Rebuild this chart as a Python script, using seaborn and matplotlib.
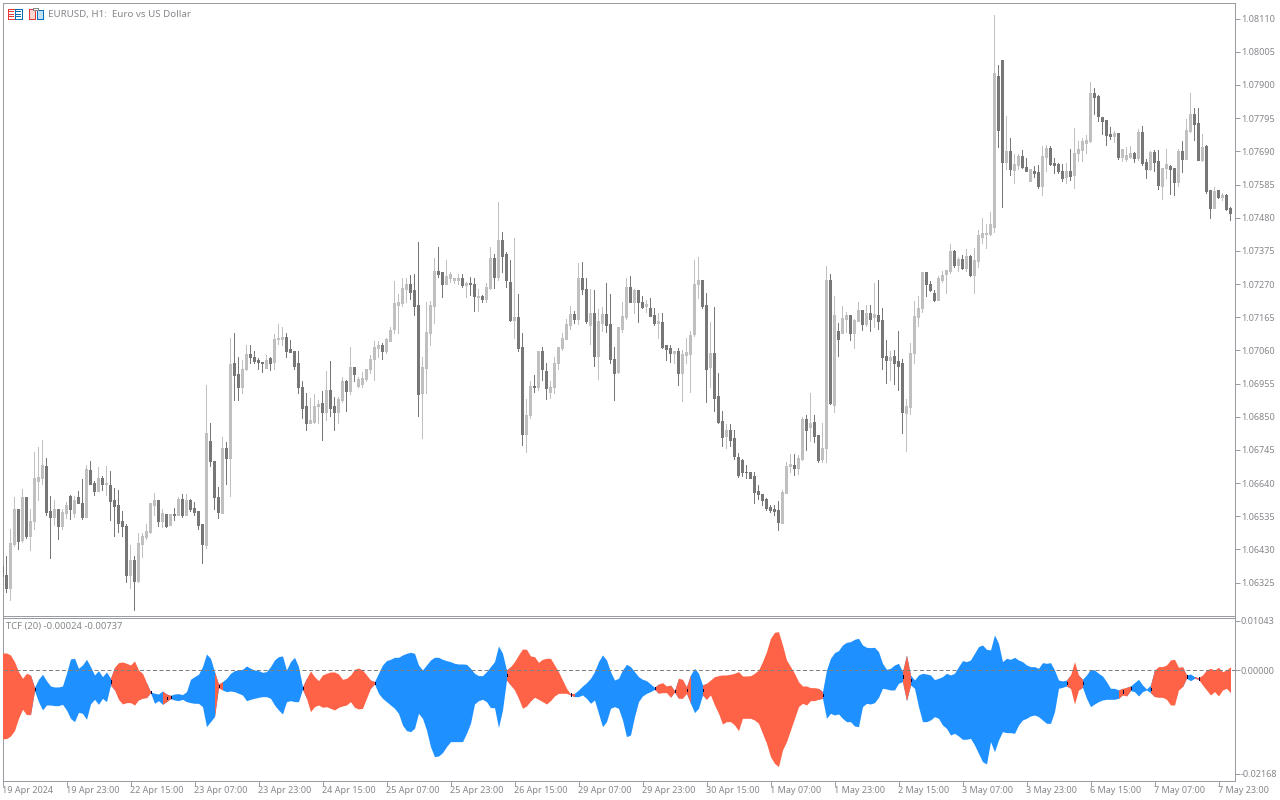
import matplotlib
matplotlib.use("Agg")
import matplotlib.pyplot as plt
from matplotlib.patches import Rectangle
import numpy as np
import pandas as pd
import seaborn as sns

# EURUSD H1 candles, in points (0.00001) above 1.06000
base_price = 1.06
opens = [375,349,305,447,555,458,593,472,518,646,
653,694,551,532,558,504,545,599,545,593,
577,532,681,640,615,656,634,634,586,570,
517,504,349,396,330,447,469,485,570,586,
517,542,507,542,536,589,539,586,561,551,
510,444,773,707,593,545,748,719,1017,985,
944,998,1048,1039,1029,1023,1004,1033,1023,1093,
1096,1102,1064,1055,1017,944,884,830,833,881,
893,865,934,881,862,903,960,931,1007,947,
953,969,998,1032,1067,1074,1055,1089,1127,1203,
1207,1254,1270,1248,1203,925,1004,1115,1200,1311,
1305,1270,1289,1282,1282,1289,1264,1273,1270,1226,
1232,1222,1257,1352,1292,1409,1362,1276,1156,1165,
1070,795,855,947,941,1055,994,928,941,1017,
1067,1096,1140,1175,1159,1289,1254,1140,1178,1042,
1146,1175,1143,1032,991,1127,1165,1260,1213,1248,
1213,1200,1194,1172,1146,1149,1074,1067,1051,1058,
988,1045,1048,1111,1267,1282,1203,1007,1051,915,
836,789,805,782,722,713,675,675,662,615,
605,589,564,558,554,513,608,694,697,687,
716,842,817,833,792,716,748,1282,887,1121,
1115,1159,1172,1115,1153,1187,1143,1178,1165,1172,
1156,1042,1029,1042,1026,1017,861,880,1051,1165,
1191,1305,1269,1241,1218,1282,1301,1310,1374,1329,
1348,1320,1358,1298,1342,1418,1427,1427,1450,1927,
1978,1655,1690,1630,1646,1674,1639,1595,1627,1624,
1579,1671,1700,1652,1649,1627,1608,1627,1614,1684,
1693,1715,1722,1874,1864,1798,1788,1744,1738,1747,
1671,1665,1671,1684,1668,1750,1655,1633,1687,1658,
1579,1636,1643,1636,1592,1690,1665,1753,1807,1779,
1662,1706,1567,1510,1567,1544,1551,1510]
highs = [375,409,494,596,555,621,593,555,738,754,
776,719,599,586,558,555,580,602,599,612,
650,697,707,646,688,662,694,678,624,618,
551,510,441,409,479,482,510,577,608,586,
555,542,542,561,596,605,605,589,580,551,
510,950,830,707,627,783,770,1099,1115,1036,
1029,1077,1077,1058,1033,1023,1045,1036,1109,1143,
1134,1112,1090,1055,1055,963,925,908,919,900,
931,994,1026,912,912,975,966,1070,1007,975,
991,1001,1045,1089,1089,1083,1099,1131,1279,1238,
1289,1286,1298,1301,1403,1039,1210,1216,1352,1387,
1305,1346,1308,1289,1301,1301,1276,1292,1286,1254,
1235,1273,1387,1365,1529,1434,1371,1346,1415,1238,
1115,906,963,982,1058,1070,1017,963,1036,1070,
1112,1159,1200,1184,1336,1339,1289,1254,1251,1191,
1197,1273,1238,1070,1134,1210,1289,1295,1254,1248,
1232,1219,1225,1194,1178,1178,1074,1074,1058,1067,
1061,1099,1121,1346,1355,1282,1241,1149,1197,988,
868,827,827,808,735,716,697,675,675,634,
605,592,570,570,583,618,706,732,732,728,
849,855,925,855,792,830,1327,1301,1229,1146,
1200,1181,1172,1159,1210,1187,1203,1203,1273,1282,
1194,1092,1058,1061,1121,1032,906,1083,1216,1232,
1305,1305,1279,1250,1294,1310,1313,1396,1377,1355,
1361,1380,1361,1383,1440,1478,1459,1497,2121,1962,
1978,1801,1731,1681,1681,1693,1668,1633,1643,1646,
1706,1709,1706,1668,1652,1649,1652,1696,1763,1722,
1731,1741,1908,1889,1867,1798,1788,1766,1753,1747,
1696,1703,1706,1687,1760,1769,1665,1690,1693,1693,
1636,1696,1646,1636,1696,1722,1791,1874,1826,1826,
1744,1709,1567,1576,1567,1557,1554,1513]
lows = [346,293,268,439,431,451,466,428,494,586,
634,536,400,507,463,494,529,526,532,574,
526,532,634,602,612,618,602,523,472,485,
472,327,305,238,324,403,460,479,539,504,
501,498,507,523,536,532,536,551,539,494,
384,434,691,558,529,545,637,599,903,900,
922,995,1017,1017,998,991,1004,995,1001,1080,
1074,1039,1052,1001,922,846,805,830,830,830,
776,839,852,808,830,896,868,919,963,941,
941,963,988,966,1039,1032,1051,1089,1112,1112,
1200,1210,1222,1169,852,782,925,1074,1146,1292,
1226,1267,1276,1273,1270,1260,1226,1235,1184,1184,
1210,1213,1254,1257,1282,1305,1260,1150,1099,1058,
760,738,843,928,934,966,906,909,922,1001,
1061,1096,1127,1146,1143,1238,1146,1080,1010,969,
1121,1118,1020,900,988,1118,1159,1210,1178,1149,
1194,1181,1168,1140,1099,1067,1029,1023,1020,950,
899,1017,928,1105,1225,1191,896,941,868,830,
757,748,757,716,659,662,653,653,577,589,
570,554,548,539,491,513,608,675,665,668,
713,744,773,770,706,706,706,890,865,1042,
1115,1118,1092,1067,1153,1124,1137,1121,1134,1127,
998,956,966,953,934,798,741,858,1017,1137,
1181,1232,1247,1215,1218,1275,1241,1304,1323,1310,
1317,1310,1294,1241,1323,1399,1383,1424,1434,1703,
1513,1633,1614,1589,1633,1636,1627,1595,1608,1573,
1551,1627,1646,1620,1620,1595,1589,1598,1573,1658,
1658,1684,1719,1807,1785,1744,1709,1728,1719,1665,
1658,1658,1668,1655,1662,1646,1605,1630,1627,1570,
1538,1605,1554,1551,1579,1624,1665,1750,1725,1662,
1658,1557,1478,1510,1541,1535,1503,1472]
closes = [346,305,450,555,454,593,472,520,656,659,
697,548,532,558,504,548,570,555,586,574,
532,684,637,615,656,634,640,583,567,513,
504,349,396,330,450,472,488,574,586,517,
545,504,542,536,589,539,586,558,548,507,
447,798,707,593,548,748,719,1014,982,941,
1001,1048,1036,1026,1023,1020,1029,1020,1096,1099,
1102,1058,1052,1010,944,877,830,839,884,890,
865,934,877,862,906,960,931,1007,985,969,
972,1001,1032,1070,1074,1055,1093,1124,1207,1210,
1257,1270,1244,1200,919,1007,1118,1203,1311,1301,
1270,1295,1301,1286,1289,1264,1273,1267,1229,1232,
1222,1260,1352,1292,1409,1358,1282,1156,1165,1067,
795,855,947,941,1055,998,938,944,1020,1070,
1099,1143,1175,1159,1289,1254,1150,1178,1042,1150,
1175,1140,1032,988,1131,1168,1260,1213,1248,1210,
1197,1206,1168,1146,1153,1070,1064,1051,1058,988,
1048,1054,1108,1270,1282,1200,1001,1051,909,833,
785,805,776,725,665,675,672,656,611,605,
586,561,554,551,516,611,694,700,687,719,
842,808,830,789,713,751,1282,893,1172,1096,
1162,1172,1115,1156,1187,1143,1178,1159,1175,1153,
1039,1029,1039,1020,1010,865,884,1051,1168,1194,
1305,1267,1250,1218,1288,1298,1313,1374,1329,1348,
1320,1358,1298,1345,1424,1431,1431,1459,1937,1757,
1655,1690,1633,1649,1674,1639,1627,1633,1620,1579,
1674,1700,1649,1646,1627,1605,1627,1611,1684,1696,
1722,1725,1874,1861,1801,1785,1741,1738,1747,1671,
1696,1677,1684,1668,1750,1652,1633,1687,1655,1582,
1636,1649,1633,1592,1690,1665,1757,1807,1776,1662,
1703,1563,1510,1563,1544,1551,1507,1494]

# TCF (20) envelope, in units of 0.00001
tcf_upper = [364,364,322,182,-28,-168,-63,-98,-357,-189,
-84,-217,-329,-350,-350,-329,-63,238,252,42,
112,231,77,-98,-7,-133,-35,-168,63,161,
175,147,112,196,7,-63,-259,-448,-483,-497,
-434,-497,-525,-497,-490,-511,-448,-189,-133,-84,
77,343,252,-28,-287,-238,-168,-63,-7,7,
21,91,42,7,-7,-42,-28,77,217,287,
301,7,182,273,77,-343,-168,-14,-133,-217,
-98,-63,-35,-35,-77,-189,-168,-98,21,49,
7,-98,-203,-238,-63,112,203,231,273,273,
322,357,378,357,112,7,112,217,273,273,
231,203,182,147,133,133,126,42,-63,-112,
-112,-28,77,182,511,357,7,77,182,322,
448,441,301,287,168,231,252,252,112,-28,
-203,-378,-497,-483,-413,-329,-259,-168,-28,182,
322,217,-28,-203,-168,7,126,77,-28,-133,
-189,-217,-287,-357,-287,-259,-329,-308,-427,-168,
-189,-343,-98,42,-63,-308,-273,-203,-133,-112,
-98,-98,-84,-63,-28,-119,-119,-112,-63,7,
182,392,672,798,812,532,217,77,-63,-238,
-329,-329,-364,-364,-378,-448,7,252,371,413,
532,588,602,651,672,532,483,476,483,392,
147,21,42,112,147,-28,322,-98,-203,-98,
-63,-77,-98,-196,-168,-133,-63,-98,-63,77,
203,182,217,357,497,532,441,427,742,567,
182,252,231,273,217,182,112,77,77,42,
161,147,161,7,-203,-224,-203,-98,182,-98,
-189,-98,21,7,-63,-119,-238,-378,-378,-413,
-378,-357,-329,-259,-189,-308,-392,-308,7,77,
77,112,217,231,63,77,-98,-77,-133,-154,
-98,7,42,7,63,-28,7,77]
tcf_lower = [-1435,-1435,-1379,-1267,-1008,-819,-931,-931,-427,-658,
-833,-728,-728,-742,-742,-714,-833,-1008,-1078,-882,
-903,-1029,-707,-609,-714,-588,-658,-308,-413,-609,
-707,-679,-679,-728,-623,-588,-574,-469,-693,-637,
-714,-658,-595,-623,-637,-609,-658,-679,-693,-693,
-763,-1183,-1078,-973,-364,-413,-448,-434,-448,-483,
-518,-637,-609,-588,-567,-553,-553,-588,-728,-833,
-917,-658,-637,-658,-658,-399,-588,-868,-763,-728,
-777,-763,-798,-833,-777,-749,-728,-658,-777,-812,
-798,-588,-378,-287,-483,-588,-658,-728,-798,-903,
-1148,-1267,-1288,-1218,-903,-1008,-1253,-1603,-1813,-1799,
-1729,-1603,-1498,-1498,-1498,-1498,-1323,-1113,-707,-637,
-609,-658,-784,-784,-1204,-833,-203,-308,-413,-588,
-798,-749,-644,-567,-609,-658,-707,-637,-539,-483,
-483,-483,-518,-553,-553,-518,-588,-693,-623,-903,
-1183,-1078,-798,-763,-798,-1043,-1393,-1358,-973,-658,
-539,-483,-448,-399,-483,-469,-469,-567,-455,-588,
-588,-483,-693,-889,-798,-518,-609,-518,-728,-903,
-1127,-1078,-1078,-1148,-1267,-1008,-1008,-1008,-1043,-1113,
-1323,-1533,-1813,-1953,-2023,-1673,-1498,-1253,-1008,-763,
-693,-728,-637,-637,-609,-588,-1008,-903,-938,-917,
-1008,-1078,-1078,-1169,-1183,-763,-693,-707,-679,-567,
-378,-392,-413,-413,-273,-238,-637,-308,-378,-763,
-1078,-1078,-1043,-973,-1008,-1148,-1218,-1358,-1323,-1379,
-1449,-1449,-1428,-1568,-1743,-1918,-1967,-1498,-1708,-1463,
-1288,-1309,-1309,-1323,-1148,-1043,-1008,-959,-938,-973,
-1043,-1113,-1113,-868,-378,-357,-329,-378,-707,-413,
-357,-588,-763,-707,-658,-623,-609,-609,-609,-588,
-518,-539,-427,-448,-539,-448,-413,-469,-553,-567,
-567,-609,-728,-728,-413,-343,-168,-217,-168,-189,
-308,-413,-518,-448,-539,-413,-378,-469]
# run lengths of the alternating sell / buy phases, starts with sell
tcf_runs = [8,20,9,4,1,12,1,21,17,34,16,21,4,1,3,4,29,21,1,40,3,10,2,6,8,3,9]

price_labels = ["1.08110","1.08005","1.07900","1.07795","1.07690","1.07585","1.07480","1.07375","1.07270",
                "1.07165","1.07060","1.06955","1.06850","1.06745","1.06640","1.06535","1.06430","1.06325"]
tcf_labels = ["0.01043","0.00000","-0.02168"]
time_labels = ["19 Apr 2024","19 Apr 23:00","22 Apr 15:00","23 Apr 07:00","23 Apr 23:00","24 Apr 15:00",
               "25 Apr 07:00","25 Apr 23:00","26 Apr 15:00","29 Apr 07:00","29 Apr 23:00","30 Apr 15:00",
               "1 May 07:00","1 May 23:00","2 May 15:00","3 May 07:00","3 May 23:00","6 May 15:00",
               "7 May 07:00","7 May 23:00"]

W, H = 1280, 800
DARK, LIGHT = "#777777", "#C0C0C0"
BLUE, RED = "#1E90FF", "#FF6347"
FRAME = "#9A9CA3"
TEXT = "#85878C"

sns.set_style("white")
plt.rcParams["font.family"] = ["Noto Sans", "DejaVu Sans"]
plt.rcParams["font.size"] = 6.5

df = pd.DataFrame({"bar": np.arange(len(opens)), "open": opens, "high": highs, "low": lows, "close": closes})
for col in ["open", "high", "low", "close"]:
    df[col] = base_price + df[col] / 1e5
df["up"] = df["close"] >= df["open"]
df["top"] = df[["open", "close"]].max(axis=1)
df["bottom"] = df[["open", "close"]].min(axis=1)

bars = np.arange(len(tcf_upper))
upper = np.array(tcf_upper) / 1e5
lower = np.array(tcf_lower) / 1e5

fig = plt.figure(figsize=(W / 100, H / 100), dpi=100)
ax = fig.add_axes([2.5 / W, 1 - 615.5 / H, 1232 / W, 613 / H])
ax2 = fig.add_axes([2.5 / W, 1 - 780.5 / H, 1232 / W, 163 / H])

# candles
for up, color in [(True, LIGHT), (False, DARK)]:
    sub = df[df["up"] == up]
    ax.vlines(sub["bar"], sub["low"], sub["high"], color=color, lw=0.72, antialiased=False, snap=False, zorder=2)
    sns.barplot(x=sub["bar"].values, y=(sub["top"] - sub["bottom"]).values, bottom=sub["bottom"].values,
                native_scale=True, width=0.75, color=color, saturation=1, errorbar=None,
                linewidth=0, antialiased=False, snap=False, ax=ax, zorder=3)

# indicator, buy phases first so the red spikes stay on top
starts = np.cumsum([0] + tcf_runs[:-1])
for want_sell, color, z in [(False, BLUE, 2), (True, RED, 3)]:
    for n, (s, run) in enumerate(zip(starts, tcf_runs)):
        if (n % 2 == 0) != want_sell:
            continue
        i0, i1 = max(s - 1, 0), min(s + run, len(bars) - 1)
        ax2.fill_between(bars[i0:i1 + 1], lower[i0:i1 + 1], upper[i0:i1 + 1], color=color,
                         linewidth=0, antialiased=False, zorder=z)

# dark ticks where the phase flips
for s in starts[1:]:
    b = s - 1 if upper[s - 1] - lower[s - 1] < upper[s] - lower[s] else s
    mid = (upper[b] + lower[b]) / 2
    ax2.vlines(b, mid - 0.00025, mid + 0.00025, color="#00003C", lw=0.72, antialiased=False, zorder=4)

ax2.axhline(0, color="#808080", lw=0.72, dashes=(4, 2.5), zorder=5)

ax.set_xlim(0, 308)
ax.set_ylim(1.06221, 1.08161)
ax2.set_xlim(0, 308)
ax2.set_ylim(-0.02314, 0.01109)

ax.set_yticks([float(t) for t in price_labels], price_labels)
ax2.set_yticks([float(t) for t in tcf_labels], tcf_labels)
ax.set_xticks([])
ax.set_xlabel("")
ax.set_ylabel("")
ax2.set_ylabel("")
ax2.set_xlabel("")
ax2.set_xticks(np.arange(len(time_labels)) * 16, time_labels, ha="left")

for a in [ax, ax2]:
    a.yaxis.tick_right()
    a.tick_params(axis="y", direction="out", length=3.6, width=0.72, color=FRAME, labelcolor=TEXT, labelsize=6.5, pad=1.0, right=True, left=False)
    for s in a.spines.values():
        s.set_color(FRAME)
        s.set_linewidth(0.72)
ax2.tick_params(axis="x", direction="out", length=3.6, width=0.72, color=FRAME, labelcolor=TEXT, labelsize=6.5, pad=0.5, bottom=True)

fig.text(48 / W, 1 - 14 / H, "EURUSD, H1:  Euro vs US Dollar", color=TEXT, fontsize=7.0, va="center", ha="left")
fig.text(6 / W, 1 - 626.5 / H, "TCF (20) -0.00024 -0.00737", color=TEXT, fontsize=6.75, va="center", ha="left")


def box(x, y, w, h, fc, ec):
    fig.add_artist(Rectangle((x / W, 1 - (y + h) / H), w / W, h / H, transform=fig.transFigure,
                             fc=fc, ec=ec, lw=0.72, antialiased=False))


# toolbar icons top left
box(7.5, 8.5, 7, 10, "#FFFFFF", "#E53935")
box(14.5, 8.5, 7, 10, "#FFFFFF", "#0B6FB8")
for yy in [11, 13.5, 16]:
    box(9, yy, 4, 0, "#E53935", "#E53935")
    box(16, yy, 4, 0, "#0B6FB8", "#0B6FB8")
box(28.5, 8.5, 6.5, 10, "#FBD5CF", "#E53935")
box(36.5, 10.5, 6, 8, "#BFE0F5", "#0B6FB8")
box(33, 7.5, 5, 2, "#FFFFFF", "#8A8A8A")

fig.savefig("out.png", dpi=100)
